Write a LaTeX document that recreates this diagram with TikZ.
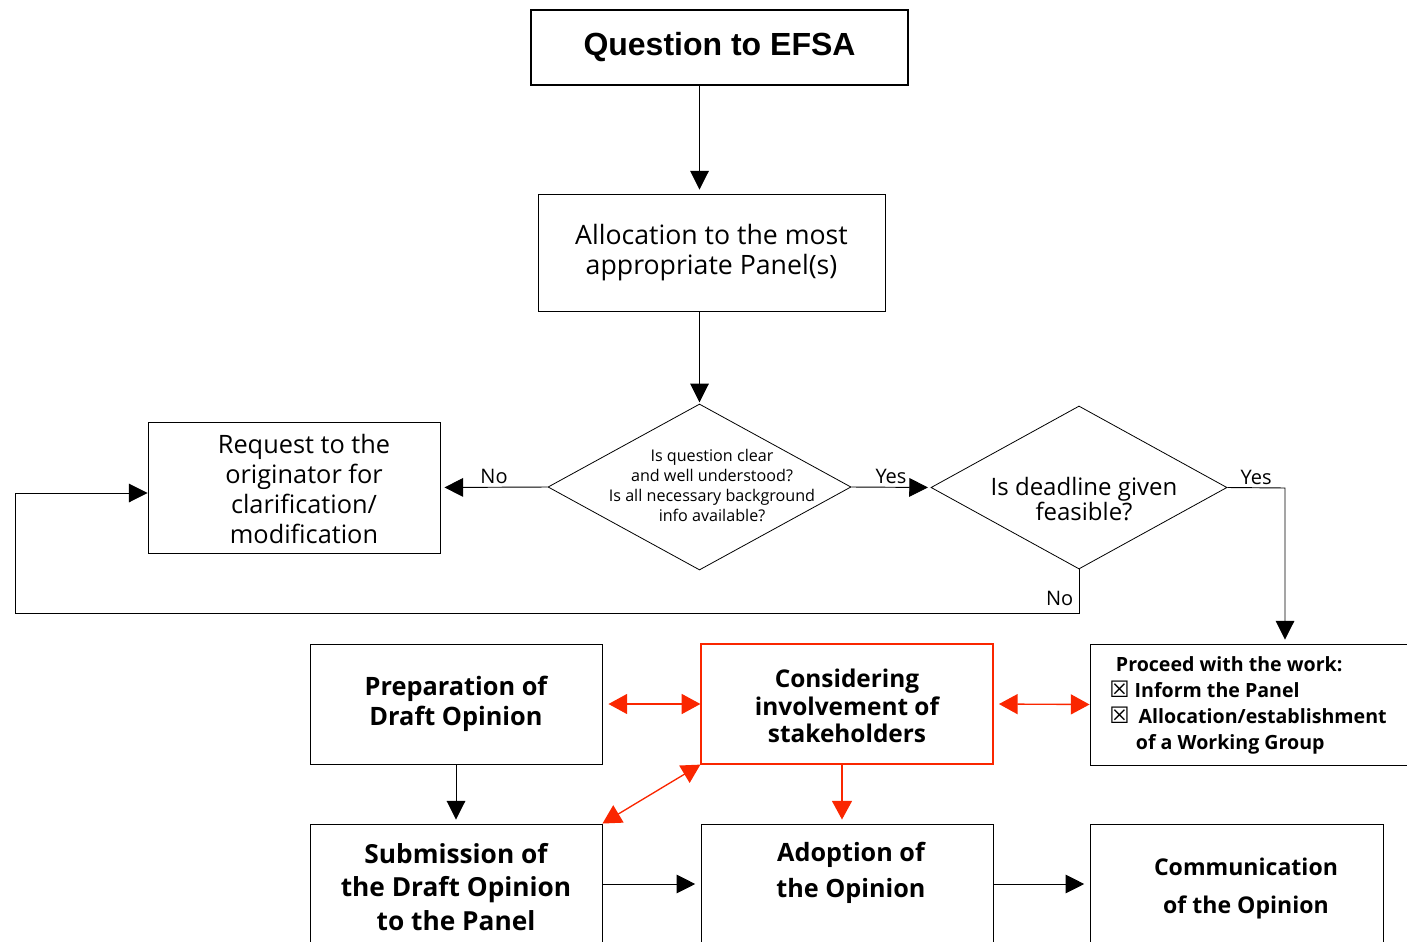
\documentclass[tikz,border=0pt]{standalone}
\usepackage{fontspec}
\setmainfont{Open Sans}
\newfontfamily\headfont{Liberation Sans}
\newfontfamily\tickfont{DejaVu Sans}
\usetikzlibrary{arrows.meta,shapes.geometric,positioning,calc}
\definecolor{stakered}{RGB}{250,38,0}
\tikzset{
stagebox/.style={
    rectangle,
    draw=black,
    line width=0.7pt,
    align=center,
    inner sep=2pt,
    font=\fontsize{20}{22.5}\selectfont
},
headbox/.style={
    stagebox,
    line width=0.9pt,
    minimum width=282.75pt,
    minimum height=56.25pt,
    font=\headfont\bfseries\fontsize{24}{28}\selectfont
},
workbox/.style={
    stagebox,
    minimum width=219pt,
    minimum height=90pt,
    font=\bfseries\fontsize{19}{22.5}\selectfont
},
lowbox/.style={
    workbox,
    minimum height=94.5pt
},
decision/.style={
    diamond,
    draw=black,
    line width=0.6pt,
    inner sep=0pt
},
qtext/.style={
    align=center,
    inner sep=0pt
},
answer/.style={
    font=\fontsize{15}{18}\selectfont,
    inner sep=2pt
},
flow/.style={
    line width=0.7pt,
    -{Triangle[length=14pt,width=14pt]}
},
stakeflow/.style={
    stakered,
    line width=1pt,
    -{Triangle[length=14pt,width=15pt]}
},
stakeboth/.style={
    stakeflow,
    {Triangle[length=14pt,width=15pt]}-{Triangle[length=14pt,width=15pt]}
},
}

\begin{document}
\begin{tikzpicture}[x=0.75pt,y=-0.75pt]
\path [use as bounding box,clip] (0,0) rectangle (1407,942);
%
\node [headbox] (title) at (719.5,47.5) {Question to EFSA};
\node [stagebox,minimum width=260.25pt,minimum height=87.75pt] (alloc) at (711.5,252.5)
    {Allocation to the most\\appropriate Panel(s)};
%
\node [decision,minimum width=227.25pt,minimum height=124.5pt] (q1) at (699.5,487) {};
\node [qtext,font=\fontsize{12.1}{15}\selectfont] (q1text) at (712,485)
    {Is question clear\\and well understood?\\Is all necessary background\\info available?};
\node [decision,minimum width=222pt,minimum height=122.25pt] (q2) at (1079,487.5) {};
\node [qtext,font=\fontsize{18}{18}\selectfont] (q2text) at (1084,499)
    {Is deadline given\\feasible?};
%
\node [stagebox,minimum width=219pt,minimum height=98.25pt] (req) at (294,487.5) {};
\node [qtext,font=\fontsize{19}{22.5}\selectfont] (reqtext) at (304,489)
    {Request to the\\originator for\\clarification/\\modification};
%
\node [workbox] (prep) at (456,704) {Preparation of\\Draft Opinion};
\node [workbox,draw=stakered,line width=0.9pt] (stake) at (847,704) {};
\node [qtext,font=\bfseries\fontsize{18.3}{20.5}\selectfont] (staketext) at (847,706)
    {Considering\\involvement of\\stakeholders};
\node [stagebox,minimum width=255pt,minimum height=90.75pt] (proc) at (1260,704.5) {};
\node [qtext,align=left,anchor=west,font=\bfseries\fontsize{14.7}{19.5}\selectfont] (proctext) at (1109,705)
    {\hspace*{5pt}Proceed with the work:\\
     {\tickfont\fontsize{17}{19.5}\selectfont ☒} Inform the Panel\\
     {\tickfont\fontsize{17}{19.5}\selectfont ☒}\hspace*{3pt} Allocation/establishment\\
     \hspace*{20pt}of a Working Group};
%
\node [lowbox,font=\bfseries\fontsize{19.7}{25}\selectfont] (sub) at (456,887) {Submission of\\the Draft Opinion\\to the Panel};
\node [lowbox] (adopt) at (847,887) {};
\node [qtext,font=\bfseries\fontsize{18.9}{27}\selectfont] (adopttext) at (851,873)
    {Adoption of\\the Opinion};
\node [lowbox,minimum width=219.75pt] (comm) at (1236.5,887) {};
\node [qtext,font=\bfseries\fontsize{17.3}{28.5}\selectfont] (commtext) at (1246,888)
    {Communication\\of the Opinion};
%
\coordinate (yesturn) at (1285,488);
\coordinate (loopbr) at (1079,613);
\coordinate (loopbl) at (15,613);
\coordinate (looptl) at (15,493);
%
\draw [flow,shorten >=3pt] (title.south -| q1.north) -- (alloc.north -| q1.north);
\draw [flow,shorten >=1pt] (alloc.south -| q1.north) -- (q1.north);
\draw [flow,shorten >=3pt] (q1.west) -- node [answer,above] {No} (req.east);
\draw [flow,shorten >=2pt] (q1.east) -- node [answer,above] {Yes} (q2.west);
\draw [flow,shorten >=3pt] (q2.east) -- node [answer,above] {Yes} (yesturn) -- (yesturn |- proc.north);
\draw [flow] (q2.south) -- (loopbr) node [answer,above left,yshift=3pt,xshift=-2pt] {No} -- (loopbl) -- (looptl) -- (looptl -| req.west);
%
\draw [stakeboth,shorten <=4.5pt] (prep.east) -- (stake.west);
\draw [stakeboth,shorten <=4pt] (stake.east) -- (proc.west);
\draw [stakeflow,shorten >=3pt] (stake.south -| 842,0) -- (adopt.north -| 842,0);
\draw [stakeboth] (stake.south west) -- (sub.north east);
%
\draw [flow,shorten >=3pt] (prep.south) -- (sub.north);
\draw [flow,shorten >=4pt] ($(sub.east)+(0,-3)$) -- ($(adopt.west)+(0,-3)$);
\draw [flow,shorten >=4pt] ($(adopt.east)+(0,-3)$) -- ($(comm.west)+(0,-3)$);
\end{tikzpicture}
\end{document}
